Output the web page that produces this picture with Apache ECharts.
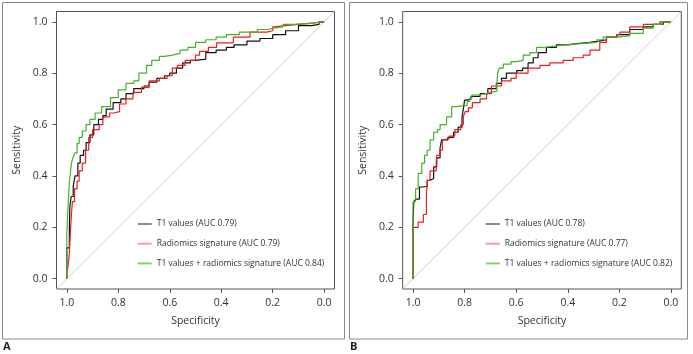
<!DOCTYPE html>
<html><head><meta charset="utf-8">
<script src="https://cdn.jsdelivr.net/npm/echarts@6/dist/echarts.min.js"></script>
<style>html,body{margin:0;padding:0;background:#fff}#c{width:693px;height:354px}</style>
</head><body><div id="c"></div>
<script>
const tickValues = [0, 0.2, 0.4, 0.6, 0.8, 1.0];
const namesA = ['T1 values (AUC 0.79)', 'Radiomics signature (AUC 0.79)', 'T1 values + radiomics signature (AUC 0.84)'];
const namesB = ['T1 values (AUC 0.78)', 'Radiomics signature (AUC 0.77)', 'T1 values + radiomics signature (AUC 0.82)'];
// [specificity, sensitivity]
const A_T1 = [[1.0,0],[1.0,0.08],[0.99,0.12],[0.988,0.2],[0.983,0.28],[0.975,0.32],[0.968,0.36],[0.957,0.4],[0.948,0.45],[0.935,0.48],[0.925,0.5],[0.91,0.53],[0.895,0.56],[0.877,0.6],[0.86,0.62],[0.847,0.635],[0.82,0.66],[0.79,0.685],[0.77,0.7],[0.74,0.72],[0.70,0.74],[0.68,0.75],[0.65,0.765],[0.62,0.78],[0.60,0.79],[0.574,0.8],[0.55,0.82],[0.52,0.84],[0.50,0.85],[0.46,0.855],[0.42,0.88],[0.38,0.89],[0.35,0.90],[0.30,0.91],[0.25,0.925],[0.20,0.935],[0.15,0.95],[0.10,0.965],[0.05,0.985],[0.02,0.99],[0.0,1.0]];
const A_RAD = [[1.0,0],[0.995,0.03],[0.99,0.05],[0.985,0.1],[0.982,0.2],[0.978,0.25],[0.97,0.3],[0.96,0.35],[0.952,0.38],[0.94,0.42],[0.927,0.45],[0.915,0.5],[0.9,0.55],[0.874,0.58],[0.86,0.6],[0.834,0.63],[0.816,0.645],[0.795,0.65],[0.77,0.68],[0.743,0.7],[0.71,0.725],[0.68,0.745],[0.64,0.77],[0.61,0.78],[0.59,0.79],[0.57,0.82],[0.54,0.83],[0.50,0.85],[0.484,0.87],[0.45,0.885],[0.418,0.90],[0.353,0.918],[0.288,0.94],[0.223,0.96],[0.20,0.965],[0.197,0.98],[0.15,0.985],[0.10,0.99],[0.05,0.995],[0.0,1.0]];
const A_COMB = [[1.0,0],[1.0,0.1],[0.995,0.18],[0.993,0.28],[0.99,0.32],[0.985,0.38],[0.982,0.42],[0.975,0.45],[0.968,0.474],[0.96,0.49],[0.952,0.526],[0.94,0.55],[0.925,0.575],[0.91,0.6],[0.89,0.62],[0.865,0.645],[0.83,0.67],[0.80,0.705],[0.77,0.735],[0.74,0.76],[0.72,0.77],[0.69,0.8],[0.67,0.83],[0.64,0.85],[0.62,0.865],[0.59,0.87],[0.56,0.877],[0.53,0.89],[0.50,0.90],[0.46,0.92],[0.42,0.93],[0.38,0.94],[0.33,0.95],[0.26,0.96],[0.22,0.97],[0.197,0.975],[0.16,0.98],[0.12,0.99],[0.06,0.993],[0.0,1.0]];
const B_T1 = [[1.0,0],[1.0,0.16],[0.997,0.22],[0.99,0.3],[0.975,0.31],[0.96,0.357],[0.945,0.36],[0.934,0.383],[0.92,0.39],[0.908,0.435],[0.895,0.47],[0.889,0.51],[0.865,0.54],[0.843,0.55],[0.825,0.57],[0.81,0.59],[0.805,0.63],[0.80,0.66],[0.79,0.695],[0.775,0.70],[0.74,0.71],[0.71,0.72],[0.677,0.74],[0.657,0.76],[0.638,0.78],[0.598,0.80],[0.575,0.81],[0.554,0.82],[0.534,0.84],[0.515,0.86],[0.483,0.88],[0.444,0.90],[0.40,0.91],[0.366,0.915],[0.314,0.92],[0.28,0.925],[0.25,0.93],[0.21,0.94],[0.16,0.95],[0.107,0.97],[0.069,0.98],[0.03,0.99],[0.0,1.0]];
const B_RAD = [[1.0,0],[1.0,0.16],[0.997,0.19],[0.98,0.2],[0.96,0.22],[0.948,0.25],[0.944,0.33],[0.934,0.383],[0.91,0.42],[0.908,0.46],[0.896,0.48],[0.886,0.5],[0.882,0.54],[0.86,0.545],[0.838,0.555],[0.815,0.58],[0.805,0.6],[0.798,0.63],[0.785,0.65],[0.77,0.665],[0.74,0.685],[0.715,0.70],[0.696,0.72],[0.657,0.75],[0.62,0.77],[0.6,0.78],[0.554,0.80],[0.508,0.82],[0.47,0.83],[0.418,0.84],[0.379,0.85],[0.34,0.86],[0.314,0.87],[0.276,0.89],[0.25,0.92],[0.21,0.94],[0.198,0.95],[0.16,0.96],[0.107,0.98],[0.043,0.99],[0.0,1.0]];
const B_COMB = [[1.0,0],[1.0,0.25],[0.99,0.3],[0.98,0.35],[0.966,0.41],[0.955,0.45],[0.945,0.48],[0.934,0.5],[0.92,0.54],[0.905,0.57],[0.895,0.58],[0.87,0.6],[0.85,0.63],[0.837,0.67],[0.79,0.675],[0.78,0.69],[0.772,0.7],[0.75,0.715],[0.72,0.72],[0.70,0.725],[0.675,0.73],[0.672,0.76],[0.665,0.80],[0.65,0.82],[0.62,0.835],[0.60,0.845],[0.573,0.85],[0.547,0.87],[0.521,0.88],[0.495,0.90],[0.45,0.905],[0.418,0.91],[0.35,0.915],[0.288,0.92],[0.263,0.93],[0.21,0.94],[0.16,0.945],[0.107,0.955],[0.069,0.975],[0.035,0.99],[0.0,1.0]];
const diagonal = [[1.04,-0.04],[-0.04,1.04]];

const FONT = 'Open Sans';
const lineColors = ['#111111', '#ee1d1d', '#45b02c'];
const legendColors = ['#8a8a8a', '#f4a0a0', '#86d064'];

function xAxis(gi){
  return {gridIndex: gi, type:'value', min:-0.04, max:1.04, inverse:true,
    name:'Specificity', nameLocation:'middle', nameGap:27,
    nameTextStyle:{fontFamily:FONT, fontSize:10.5, color:'#333'},
    axisLine:{show:false, onZero:false}, splitLine:{show:false},
    axisTick:{show:true, length:4, customValues:tickValues, lineStyle:{color:'#555'}},
    axisLabel:{customValues:tickValues, margin:9, fontFamily:FONT, fontSize:10.5, color:'#333', formatter:v=>v.toFixed(1)}};
}
function yAxis(gi){
  return {gridIndex: gi, type:'value', min:-0.04, max:1.04,
    name:'Sensitivity', nameLocation:'middle', nameGap:34,
    nameTextStyle:{fontFamily:FONT, fontSize:10.5, color:'#333'},
    axisLine:{show:false, onZero:false}, splitLine:{show:false},
    axisTick:{show:true, length:4, customValues:tickValues, lineStyle:{color:'#555'}},
    axisLabel:{customValues:tickValues, margin:9, fontFamily:FONT, fontSize:10.5, color:'#333', formatter:v=>v.toFixed(1)}};
}
function curve(name, data, gi, ci){
  return {name, type:'line', step:'start', xAxisIndex:gi, yAxisIndex:gi, data, symbol:'none', silent:true,
    lineStyle:{color:lineColors[ci], width:1.2}, itemStyle:{color:lineColors[ci]}, z:3, animation:false};
}
function legend(names, left){
  return {orient:'vertical', left, top:213, icon:'rect', itemWidth:14, itemHeight:2, itemGap:7.7,
    selectedMode:false,
    textStyle:{fontFamily:FONT, fontSize:8.5, color:'#333', lineHeight:12},
    data: names.map((n,i)=>({name:n, itemStyle:{color:legendColors[i]}}))};
}
const chart = echarts.init(document.getElementById('c'), null, {renderer:'canvas'});
chart.setOption({
  animation:false,
  backgroundColor:'#fff',
  grid:[
    {left:56.5, top:11.5, width:278, height:277.5, show:true, borderColor:'#555', borderWidth:1, backgroundColor:'transparent'},
    {left:402.7, top:11.5, width:278.6, height:277.5, show:true, borderColor:'#555', borderWidth:1, backgroundColor:'transparent'}
  ],
  xAxis:[xAxis(0), xAxis(1)],
  yAxis:[yAxis(0), yAxis(1)],
  legend:[legend(namesA, 132.7), legend(namesB, 480.7)],
  series:[
    {type:'line', xAxisIndex:0, yAxisIndex:0, data:diagonal, symbol:'none', silent:true, lineStyle:{color:'#cfcfcf', width:1}, z:1},
    {type:'line', xAxisIndex:1, yAxisIndex:1, data:diagonal, symbol:'none', silent:true, lineStyle:{color:'#cfcfcf', width:1}, z:1},
    curve(namesA[0], A_T1, 0, 0), curve(namesA[1], A_RAD, 0, 1), curve(namesA[2], A_COMB, 0, 2),
    curve(namesB[0], B_T1, 1, 0), curve(namesB[1], B_RAD, 1, 1), curve(namesB[2], B_COMB, 1, 2)
  ],
  graphic:[
    {type:'rect', shape:{x:2.5, y:2.5, width:342, height:336.5}, style:{fill:'none', stroke:'#8a8a8a', lineWidth:1}, silent:true},
    {type:'rect', shape:{x:349.5, y:2.5, width:338, height:336.5}, style:{fill:'none', stroke:'#8a8a8a', lineWidth:1}, silent:true},
    {type:'text', left:3, top:341, style:{text:'A', font:'bold 11px "Open Sans"', fill:'#222'}, silent:true},
    {type:'text', left:350, top:341, style:{text:'B', font:'bold 11px "Open Sans"', fill:'#222'}, silent:true}
  ]
});
</script></body></html>
